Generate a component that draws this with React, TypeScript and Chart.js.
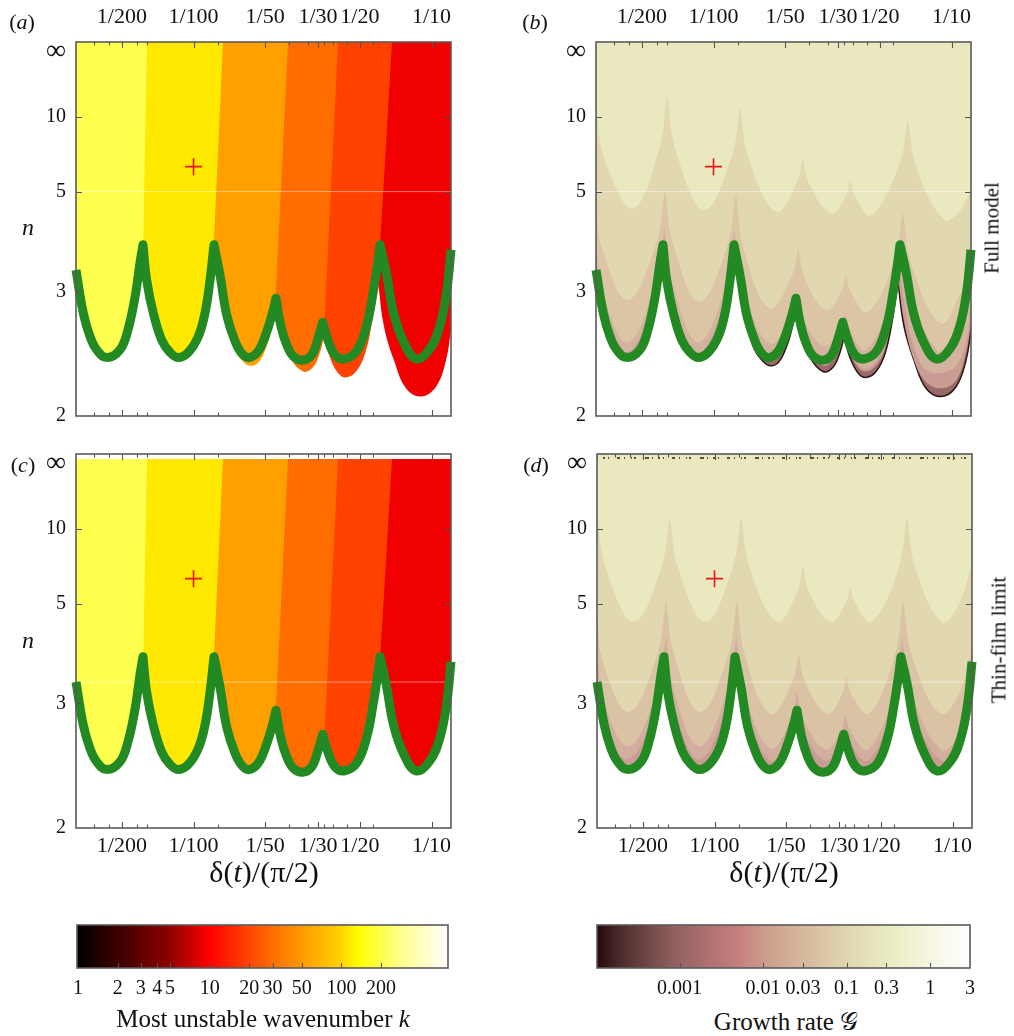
import React, { useEffect, useRef } from 'react';
import { Chart, registerables } from 'chart.js';

Chart.register(...registerables);

const FONT = "'Liberation Serif', 'Times New Roman', Times, serif";

// ---------- axes ----------
const X_MIN = 0.003208;
const X_MAX = 0.120722;
const xTickValues = [1 / 200, 1 / 100, 1 / 50, 1 / 30, 1 / 20, 1 / 10];
const xTickLabels = ['1/200', '1/100', '1/50', '1/30', '1/20', '1/10'];
const xMinorTickValues = [0.003818, 0.004414, 0.005787, 0.006375, 0.012671, 0.025185, 0.030268, 0.035335, 0.03855, 0.04414, 0.056766];
const yTickN = [Infinity, 10, 5, 3, 2];
const yTickLabels = ['∞', '10', '5', '3', '2'];
const N_BOTTOM = 2;

// ---------- marginal-stability curve (green), arcs of [delta, n] ----------
const greenArc1 = [[0.003208, 3.28], [0.003442, 2.76], [0.003673, 2.54], [0.003919, 2.43], [0.004317, 2.37], [0.00491, 2.43], [0.005305, 2.6], [0.005677, 2.93], [0.005958, 3.39], [0.006133, 3.69]];
const greenArc2 = [[0.006133, 3.69], [0.006357, 3.14], [0.006776, 2.76], [0.00735, 2.51], [0.007964, 2.41], [0.00863, 2.37], [0.009506, 2.41], [0.010473, 2.54], [0.011174, 2.76], [0.011728, 3.14], [0.01219, 3.69]];
const greenArc3 = [[0.01219, 3.69], [0.012919, 3.21], [0.013784, 2.74], [0.014937, 2.5], [0.015983, 2.4], [0.017153, 2.37], [0.018713, 2.42], [0.020297, 2.58], [0.02151, 2.77], [0.022208, 2.92]];
const greenArc4 = [[0.022208, 2.92], [0.023242, 2.64], [0.024631, 2.47], [0.026255, 2.38], [0.028755, 2.35], [0.031371, 2.39], [0.033438, 2.53], [0.034895, 2.67]];
const greenArc5 = [[0.034895, 2.67], [0.036832, 2.5], [0.0393, 2.39], [0.042874, 2.36], [0.048482, 2.42], [0.053408, 2.64], [0.056929, 3.0], [0.059175, 3.35], [0.060741, 3.69]];
const greenArc6 = [[0.060741, 3.69], [0.064809, 3.21], [0.069083, 2.77], [0.076105, 2.5], [0.086052, 2.36], [0.098537, 2.44], [0.108575, 2.64], [0.115806, 3.0], [0.120722, 3.6]];
const greenArcs = [greenArc1, greenArc2, greenArc3, greenArc4, greenArc5, greenArc6];

// ---------- full-model stability boundary (arcs 3-6 lie below the green curve) ----------
const stabArc3 = [[0.01219, 3.69], [0.012919, 3.14], [0.013691, 2.67], [0.014793, 2.44], [0.015983, 2.35], [0.017269, 2.31], [0.01884, 2.34], [0.020554, 2.49], [0.021573, 2.65], [0.022208, 2.77]];
const stabArc4 = [[0.022208, 2.77], [0.023535, 2.54], [0.02543, 2.37], [0.028839, 2.27], [0.031768, 2.3], [0.033993, 2.41], [0.035335, 2.54]];
const stabArc5 = [[0.035335, 2.54], [0.037446, 2.37], [0.04046, 2.26], [0.043715, 2.23], [0.048156, 2.27], [0.052537, 2.4], [0.056218, 2.67], [0.059577, 3.12]];
const stabArc6 = [[0.059577, 3.12], [0.063138, 2.63], [0.069552, 2.35], [0.078113, 2.16], [0.090311, 2.11], [0.104418, 2.17], [0.115024, 2.35], [0.120722, 2.6]];
const stabArcs = [greenArc1, greenArc2, stabArc3, stabArc4, stabArc5, stabArc6];

// ---------- growth-rate contour levels, full model (b) ----------
const fullLevel1 = [
  [[0.003208, 10.49], [0.003506, 6.3], [0.004575, 4.5], [0.005866, 6.82], [0.006375, 14.11]],
  [[0.006375, 14.11], [0.006975, 6.77], [0.009146, 4.45], [0.011853, 6.43], [0.012919, 11.56]],
  [[0.012919, 11.56], [0.014094, 6.38], [0.018301, 4.41], [0.022208, 5.25], [0.023695, 6.49]],
  [[0.023695, 6.49], [0.025381, 5.22], [0.031159, 4.37], [0.035851, 4.84], [0.037555, 5.42]],
  [[0.037555, 5.42], [0.039494, 4.81], [0.045882, 4.32], [0.059866, 6.0], [0.065438, 9.8]],
  [[0.065438, 9.8], [0.071529, 5.88], [0.093242, 4.2], [0.107805, 4.41], [0.120722, 5.05]],
];
const fullLevel2 = [
  [[0.003208, 4.4], [0.003416, 3.6], [0.004359, 2.9], [0.005715, 3.685], [0.006253, 5.05]],
  [[0.006253, 5.05], [0.006796, 3.67], [0.008714, 2.88], [0.01137, 3.64], [0.012429, 4.94]],
  [[0.012429, 4.94], [0.013468, 3.58], [0.017153, 2.81], [0.02118, 3.17], [0.022708, 3.63]],
  [[0.022708, 3.63], [0.024276, 3.15], [0.029688, 2.79], [0.034324, 2.99], [0.036025, 3.21]],
  [[0.036025, 3.21], [0.037957, 2.98], [0.04444, 2.77], [0.057261, 3.4], [0.062348, 4.41]],
  [[0.062348, 4.41], [0.068417, 3.32], [0.090311, 2.66], [0.109593, 2.99], [0.120722, 3.31]],
];
const fullLevel3 = [
  [[0.003208, 3.65], [0.003416, 2.99], [0.004359, 2.49], [0.005687, 3.09], [0.006211, 4.05]],
  [[0.006211, 4.05], [0.006743, 3.09], [0.00863, 2.49], [0.011206, 3.05], [0.012226, 3.94]],
  [[0.012226, 3.94], [0.013299, 3.04], [0.017153, 2.48], [0.020976, 2.7], [0.022424, 2.98]],
  [[0.022424, 2.98], [0.023938, 2.69], [0.029119, 2.46], [0.033993, 2.6], [0.035782, 2.76]],
  [[0.035782, 2.76], [0.037628, 2.58], [0.043715, 2.43], [0.056766, 2.96], [0.061928, 3.78]],
  [[0.061928, 3.78], [0.068045, 2.93], [0.090311, 2.4], [0.109593, 2.54], [0.120722, 2.86]],
];
const fullLevel4 = [
  [[0.003208, 3.48], [0.003399, 2.85], [0.004329, 2.41], [0.005663, 2.93], [0.006193, 3.74]],
  [[0.006193, 3.74], [0.006724, 2.93], [0.008605, 2.41], [0.011255, 2.9], [0.012309, 3.65]],
  [[0.012309, 3.65], [0.012919, 3.25], [0.013691, 2.75], [0.014793, 2.51], [0.015983, 2.41], [0.017269, 2.37], [0.01884, 2.41], [0.020554, 2.56], [0.021573, 2.73], [0.022208, 2.86]],
  [[0.022208, 2.86], [0.023535, 2.61], [0.02543, 2.43], [0.028839, 2.32], [0.031768, 2.36], [0.033993, 2.47], [0.035335, 2.63]],
  [[0.035335, 2.63], [0.037446, 2.44], [0.04046, 2.32], [0.043715, 2.29], [0.048156, 2.34], [0.052537, 2.49], [0.056218, 2.79], [0.060156, 3.37]],
  [[0.060156, 3.37], [0.063752, 2.82], [0.069552, 2.45], [0.078113, 2.28], [0.090311, 2.26], [0.104418, 2.31], [0.115024, 2.49], [0.120722, 2.75]],
];
const fullLevel5 = [
  [[0.003208, 3.37], [0.003399, 2.77], [0.004329, 2.37], [0.005622, 2.87], [0.006133, 3.65]],
  [[0.006133, 3.65], [0.006675, 2.87], [0.008605, 2.37], [0.011174, 2.86], [0.01219, 3.61]],
  [[0.01219, 3.61], [0.012919, 3.22], [0.013691, 2.73], [0.014793, 2.49], [0.015983, 2.4], [0.017269, 2.35], [0.01884, 2.39], [0.020554, 2.54], [0.021573, 2.71], [0.022208, 2.83]],
  [[0.022208, 2.83], [0.023535, 2.59], [0.02543, 2.41], [0.028839, 2.31], [0.031768, 2.35], [0.033993, 2.45], [0.035335, 2.6]],
  [[0.035335, 2.6], [0.037446, 2.41], [0.04046, 2.3], [0.043715, 2.27], [0.048156, 2.31], [0.052537, 2.44], [0.056218, 2.73], [0.059577, 3.2]],
  [[0.059577, 3.2], [0.063138, 2.69], [0.069552, 2.35], [0.078113, 2.2], [0.090311, 2.16], [0.104418, 2.21], [0.115024, 2.41], [0.120722, 2.66]],
];

// ---------- growth-rate contour levels, thin-film limit (d) ----------
const thinLevel1 = [
  [[0.003208, 11.93], [0.003506, 6.49], [0.004575, 4.46], [0.005941, 6.49], [0.006481, 11.93]],
  [[0.006481, 11.93], [0.007064, 6.49], [0.009146, 4.46], [0.011853, 6.51], [0.012919, 12.06]],
  [[0.012919, 12.06], [0.014094, 6.51], [0.018301, 4.46], [0.022098, 5.35], [0.023535, 6.68]],
  [[0.023535, 6.68], [0.025136, 5.35], [0.030651, 4.46], [0.035437, 4.98], [0.037194, 5.64]],
  [[0.037194, 5.64], [0.039189, 4.98], [0.045882, 4.46], [0.059146, 6.51], [0.064372, 12.06]],
  [[0.064372, 12.06], [0.070058, 6.51], [0.090311, 4.46], [0.106458, 4.99], [0.120722, 6.84]],
];
const thinLevel2 = [
  [[0.003208, 4.6], [0.003416, 3.56], [0.004359, 2.9], [0.005715, 3.7], [0.006253, 5.12]],
  [[0.006253, 5.12], [0.006796, 3.7], [0.008714, 2.9], [0.01137, 3.7], [0.012429, 5.12]],
  [[0.012429, 5.12], [0.013468, 3.69], [0.017153, 2.88], [0.021078, 3.26], [0.022577, 3.75]],
  [[0.022577, 3.75], [0.024182, 3.26], [0.029688, 2.88], [0.034158, 3.1], [0.035782, 3.36]],
  [[0.035782, 3.36], [0.037775, 3.1], [0.04444, 2.88], [0.056984, 3.69], [0.061928, 5.12]],
  [[0.061928, 5.12], [0.067749, 3.69], [0.088838, 2.88], [0.106458, 3.12], [0.120722, 3.84]],
];
const thinLevel3 = [
  [[0.003208, 3.74], [0.003416, 3.04], [0.004359, 2.56], [0.005715, 3.15], [0.006253, 4.09]],
  [[0.006253, 4.09], [0.006776, 3.15], [0.00863, 2.56], [0.011283, 3.15], [0.012345, 4.09]],
  [[0.012345, 4.09], [0.013403, 3.13], [0.017153, 2.54], [0.020815, 2.81], [0.022208, 3.15]],
  [[0.022208, 3.15], [0.023822, 2.8], [0.029402, 2.53], [0.033829, 2.69], [0.035437, 2.87]],
  [[0.035437, 2.87], [0.037446, 2.69], [0.04414, 2.53], [0.05649, 3.12], [0.061331, 4.09]],
  [[0.061331, 4.09], [0.067391, 3.12], [0.089441, 2.53], [0.106458, 2.67], [0.120722, 3.18]],
];
const thinLevel4 = [
  [[0.003208, 3.48], [0.003399, 2.85], [0.004329, 2.45], [0.005663, 2.97], [0.006193, 3.78]],
  [[0.006193, 3.78], [0.006724, 2.97], [0.008605, 2.45], [0.011255, 2.97], [0.012309, 3.78]],
  [[0.012309, 3.78], [0.013396, 2.97], [0.017269, 2.44], [0.020855, 2.68], [0.022208, 2.97]],
  [[0.022208, 2.97], [0.023765, 2.68], [0.029119, 2.44], [0.033666, 2.57], [0.035335, 2.72]],
  [[0.035335, 2.72], [0.037356, 2.57], [0.04414, 2.44], [0.056082, 2.96], [0.060741, 3.78]],
  [[0.060741, 3.78], [0.066904, 2.96], [0.089441, 2.44], [0.106458, 2.56], [0.120722, 2.99]],
];

// ---------- most-unstable-wavenumber bands (a, c) ----------
const bandEdgeTop = [X_MIN, 0.006375, 0.0133, 0.024947, 0.040471, 0.068234];
const bandEdgeBottom = [X_MIN, 0.00596, 0.011284, 0.020963, 0.034003, 0.055147];
const bandColors = ['#ffff4f', '#ffe900', '#ffa000', '#ff6c00', '#ff4200', '#f00000'];

// ---------- marker and guide ----------
const crossDelta = 0.01;
const crossN = 6;
const guideNTop = 5;
const guideNBottom = 3.28;

// ---------- colour bars ----------
const kMin = 0.983;
const kMax = 645;
const kTicks = [1, 2, 3, 4, 5, 10, 20, 30, 50, 100, 200];
const kTickLabels = ['1', '2', '3', '4', '5', '10', '20', '30', '50', '100', '200'];
const kColors = [[0.983, '#000000'], [2, '#3c0000'], [5, '#8e0000'], [10, '#ff0000'], [20, '#ff4600'], [30, '#ff6e00'], [50, '#ff9a00'], [100, '#ffd400'], [135, '#ffff00'], [250, '#ffff78'], [645, '#ffffff']];
const gMin = 0.0001028;
const gMax = 3;
const gTicks = [0.001, 0.01, 0.03, 0.1, 0.3, 1, 3];
const gTickLabels = ['0.001', '0.01', '0.03', '0.1', '0.3', '1', '3'];
const gColors = [[0.0001028, '#240808'], [0.0002, '#4e2c2c'], [0.0005, '#7a4d4d'], [0.001, '#966363'], [0.003, '#b87676'], [0.005, '#c47e7e'], [0.01, '#cc9a8a'], [0.03, '#d5b89c'], [0.1, '#e0d6b0'], [0.3, '#e9eabf'], [1, '#f6f6e2'], [3, '#ffffff']];

const fullColors = ['#e9e8bf', '#e2d8b0', '#dbc5a5', '#d4b2a0', '#c99d94', '#9a6a68'];
const thinColors = ['#e9e8bf', '#e2d8b0', '#dac3a4', '#d3ae9f', '#ca9c93'];
const GREEN = '#238a23';

// ---------- helpers ----------
const pts = (arcs: number[][][]) => arcs.flat().map(([d, n]) => ({ x: d, y: 1 / n }));
const yTickValues = yTickN.map((n) => 1 / n);

const frameTicksPlugin = {
  id: 'frameTicks',
  afterDraw(chart: any, _a: any, opts: any) {
    const { ctx, chartArea: a } = chart;
    const xs = chart.scales.x;
    const ys = chart.scales.y;
    ctx.save();
    ctx.strokeStyle = '#555';
    ctx.lineWidth = 1.1;
    ctx.beginPath();
    const xt = (vals: number[], len: number) =>
      vals.forEach((v) => {
        const p = Math.round(xs.getPixelForValue(v)) + 0.5;
        ctx.moveTo(p, a.bottom);
        ctx.lineTo(p, a.bottom - len);
        if (opts.both) {
          ctx.moveTo(p, a.top);
          ctx.lineTo(p, a.top + len);
        }
      });
    xt(opts.xMajor || [], opts.majorLen || 6);
    xt(opts.xMinor || [], opts.minorLen || 3.5);
    (opts.yMajor || []).forEach((v: number) => {
      const p = Math.round(ys.getPixelForValue(v)) + 0.5;
      ctx.moveTo(a.left, p);
      ctx.lineTo(a.left + 6, p);
      ctx.moveTo(a.right, p);
      ctx.lineTo(a.right - 6, p);
    });
    ctx.stroke();
    ctx.lineWidth = 1.6;
    ctx.strokeStyle = '#5a5a5a';
    ctx.strokeRect(a.left, a.top, a.right - a.left, a.bottom - a.top);
    ctx.restore();
  },
};

function region(data: any[], color: string, fill: any, order: number, extra: any = {}) {
  return { data, order, fill, backgroundColor: color, borderColor: 'rgba(0,0,0,0)', borderWidth: 0, pointRadius: 0, pointHoverRadius: 0, tension: 0.4, ...extra };
}

function bandSets(topN: number) {
  return bandColors.map((c, i) =>
    region(
      [
        { x: bandEdgeTop[i], y: 1 / topN },
        { x: X_MAX, y: 1 / topN },
        { x: X_MAX, y: 1 / N_BOTTOM },
        { x: bandEdgeBottom[i], y: 1 / N_BOTTOM },
      ],
      c,
      'shape',
      120 - i,
      { tension: 0 }
    )
  );
}

function commonSets(guideN: number, greenFillWhite: boolean) {
  return [
    { data: [{ x: X_MIN, y: 1 / guideN }, { x: X_MAX, y: 1 / guideN }], order: 30, borderColor: 'rgba(255,255,255,0.45)', borderWidth: 1, pointRadius: 0, tension: 0, fill: false },
    {
      data: pts(greenArcs), order: 10, borderColor: GREEN, borderWidth: 9, pointRadius: 0, tension: 0.4, clip: false,
      borderCapStyle: 'butt', borderJoinStyle: 'round',
      fill: greenFillWhite ? { value: 1 / N_BOTTOM } : false, backgroundColor: '#ffffff',
    },
    {
      data: [{ x: crossDelta, y: 1 / crossN }], order: 0, showLine: false, pointStyle: 'cross', pointRadius: 8.5,
      pointBorderColor: '#e8151b', pointBorderWidth: 1.6, pointBackgroundColor: 'rgba(0,0,0,0)', clip: false,
    },
  ];
}

function panelConfig(datasets: any[], xPos: 'top' | 'bottom') {
  const isTop = xPos === 'top';
  return {
    type: 'line',
    data: { datasets },
    options: {
      animation: false, responsive: false, devicePixelRatio: 1, events: [],
      layout: { padding: isTop ? { left: 0, top: 0, right: 19, bottom: 14 } : { left: 0, top: 42, right: 19, bottom: 0 } },
      plugins: {
        legend: { display: false }, tooltip: { enabled: false },
        frameTicks: { xMajor: xTickValues, xMinor: xMinorTickValues, yMajor: yTickValues.slice(1, 4), both: true },
      },
      scales: {
        x: {
          type: 'logarithmic', position: xPos, min: X_MIN, max: X_MAX,
          grid: { display: false, drawTicks: false }, border: { display: false },
          afterBuildTicks: (s: any) => { s.ticks = xTickValues.map((v) => ({ value: v })); },
          afterFit: (s: any) => { s.height = isTop ? 42 : 34; s.paddingLeft = 0; s.paddingRight = 0; },
          ticks: { autoSkip: false, maxRotation: 0, minRotation: 0, padding: isTop ? 12 : 5, color: '#111', font: { family: FONT, size: 22 }, callback: (_v: any, i: number) => xTickLabels[i] },
        },
        y: {
          type: 'linear', position: 'left', min: 0, max: 1 / N_BOTTOM, reverse: true,
          grid: { display: false, drawTicks: false }, border: { display: false },
          afterBuildTicks: (s: any) => { s.ticks = yTickValues.map((v) => ({ value: v })); },
          afterFit: (s: any) => { s.width = 76; s.paddingTop = 0; s.paddingBottom = 0; },
          ticks: {
            padding: 10, color: '#111',
            font: (c: any) => (c.index === 0 ? { family: FONT, size: 28, lineHeight: '20px' } : { family: FONT, size: 20 }),
            callback: (_v: any, i: number) => (i === 0 ? ['', yTickLabels[0]] : yTickLabels[i]),
          },
        },
      },
    },
    plugins: [frameTicksPlugin],
  };
}

function gradientFor(chart: any, stops: any[]) {
  const area = chart.chartArea;
  const xs = chart.scales && chart.scales.x;
  if (!area || !xs) return '#888';
  const g = chart.ctx.createLinearGradient(area.left, 0, area.right, 0);
  const w = area.right - area.left;
  stops.forEach(([v, c]) => {
    const t = (xs.getPixelForValue(v) - area.left) / w;
    g.addColorStop(Math.min(1, Math.max(0, t)), c);
  });
  return g;
}

function colorbarConfig(min: number, max: number, stops: any[], ticks: number[], labels: string[], padRight: number) {
  return {
    type: 'bar',
    data: {
      labels: [''],
      datasets: [{ data: [[min, max]], backgroundColor: (c: any) => gradientFor(c.chart, stops), borderWidth: 0, barPercentage: 1, categoryPercentage: 1, borderSkipped: false }],
    },
    options: {
      indexAxis: 'y', animation: false, responsive: false, devicePixelRatio: 1, events: [],
      layout: { padding: { left: 37, right: padRight, top: 20, bottom: 0 } },
      plugins: { legend: { display: false }, tooltip: { enabled: false }, frameTicks: { xMajor: ticks.filter((t) => t > min * 1.05 && t < max * 0.99), both: false, majorLen: 5 } },
      scales: {
        x: {
          type: 'logarithmic', position: 'bottom', min, max,
          grid: { display: false, drawTicks: false }, border: { display: false },
          afterBuildTicks: (s: any) => { s.ticks = ticks.map((v) => ({ value: v })); },
          afterFit: (s: any) => { s.height = 37; s.paddingLeft = 0; s.paddingRight = 0; },
          ticks: { autoSkip: false, maxRotation: 0, minRotation: 0, padding: 9, color: '#111', font: { family: FONT, size: 20 }, callback: (_v: any, i: number) => labels[i] },
        },
        y: { type: 'category', display: false },
      },
    },
    plugins: [frameTicksPlugin],
  };
}

function ChartBox({ left, top, width, height, make }: any) {
  const ref = useRef<HTMLCanvasElement | null>(null);
  useEffect(() => {
    const chart = new Chart(ref.current as HTMLCanvasElement, make() as any);
    return () => chart.destroy();
  }, []);
  return <canvas ref={ref} width={width} height={height} style={{ position: 'absolute', left, top, width, height }} />;
}

function T({ x, y, size = 20, rot = 0, children }: any) {
  return (
    <div style={{ position: 'absolute', left: x, top: y, transform: `translate(-50%, -50%) rotate(${rot}deg)`, fontFamily: FONT, fontSize: size, lineHeight: 1, whiteSpace: 'nowrap', color: '#111' }}>
      {children}
    </div>
  );
}

const makeA = () => panelConfig([
  ...bandSets(Infinity),
  region(pts(stabArcs), '#ffffff', { value: 1 / N_BOTTOM }, 100),
  ...commonSets(guideNTop, false),
], 'top');

const makeB = () => panelConfig([
  region(pts(stabArcs), fullColors[5], { value: 0 }, 100, { borderColor: '#2b1414', borderWidth: 1.5 }),
  region(pts(fullLevel5), fullColors[4], { value: 0 }, 90),
  region(pts(fullLevel4), fullColors[3], { value: 0 }, 80),
  region(pts(fullLevel3), fullColors[2], { value: 0 }, 70),
  region(pts(fullLevel2), fullColors[1], { value: 0 }, 60),
  region(pts(fullLevel1), fullColors[0], { value: 0 }, 50),
  ...commonSets(guideNTop, false),
], 'top');

const makeC = () => panelConfig([
  ...bandSets(150),
  ...commonSets(guideNBottom, true),
], 'bottom');

const makeD = () => panelConfig([
  region(pts(greenArcs), thinColors[4], { value: 0 }, 100),
  region(pts(thinLevel4), thinColors[3], { value: 0 }, 90),
  region(pts(thinLevel3), thinColors[2], { value: 0 }, 80),
  region(pts(thinLevel2), thinColors[1], { value: 0 }, 70),
  region(pts(thinLevel1), thinColors[0], { value: 0 }, 60),
  { data: [{ x: X_MIN, y: 1 / 187 }, { x: X_MAX, y: 1 / 187 }], order: 35, borderColor: 'rgba(40,30,30,0.75)', borderWidth: 2, borderDash: [1, 5, 2, 3, 1, 8, 3, 4, 1, 6, 1, 2, 2, 9, 4, 3], pointRadius: 0, tension: 0, fill: false },
  ...commonSets(guideNBottom, false),
], 'bottom');

const makeK = () => colorbarConfig(kMin, kMax, kColors, kTicks, kTickLabels, 32);
const makeG = () => colorbarConfig(gMin, gMax, gColors, gTicks, gTickLabels, 30);

export default function App() {
  return (
    <div style={{ position: 'absolute', left: 0, top: 0, width: 1014, height: 1036, background: '#fff', overflow: 'hidden' }}>
      <ChartBox left={0} top={0} width={470} height={430} make={makeA} />
      <ChartBox left={520} top={0} width={470} height={430} make={makeB} />
      <ChartBox left={0} top={412} width={470} height={450} make={makeC} />
      <ChartBox left={521} top={412} width={470} height={450} make={makeD} />
      <ChartBox left={40} top={905} width={440} height={100} make={makeK} />
      <ChartBox left={560} top={905} width={440} height={100} make={makeG} />

      <T x={22} y={22} size={22}>(<i>a</i>)</T>
      <T x={535} y={22} size={22}>(<i>b</i>)</T>
      <T x={23} y={465} size={22}>(<i>c</i>)</T>
      <T x={536} y={465} size={22}>(<i>d</i>)</T>
      <T x={28} y={227} size={24}><i>n</i></T>
      <T x={28} y={640} size={24}><i>n</i></T>
      <T x={992} y={228} size={21} rot={-90}>Full model</T>
      <T x={999} y={640} size={21} rot={-90}>Thin-film limit</T>
      <T x={264} y={872} size={30}>δ(<i>t</i>)/(π/2)</T>
      <T x={784} y={872} size={30}>δ(<i>t</i>)/(π/2)</T>
      <T x={263} y={1018} size={25}>Most unstable wavenumber <i>k</i></T>
      <T x={786} y={1021} size={25}>Growth rate 𝒢</T>
    </div>
  );
}
